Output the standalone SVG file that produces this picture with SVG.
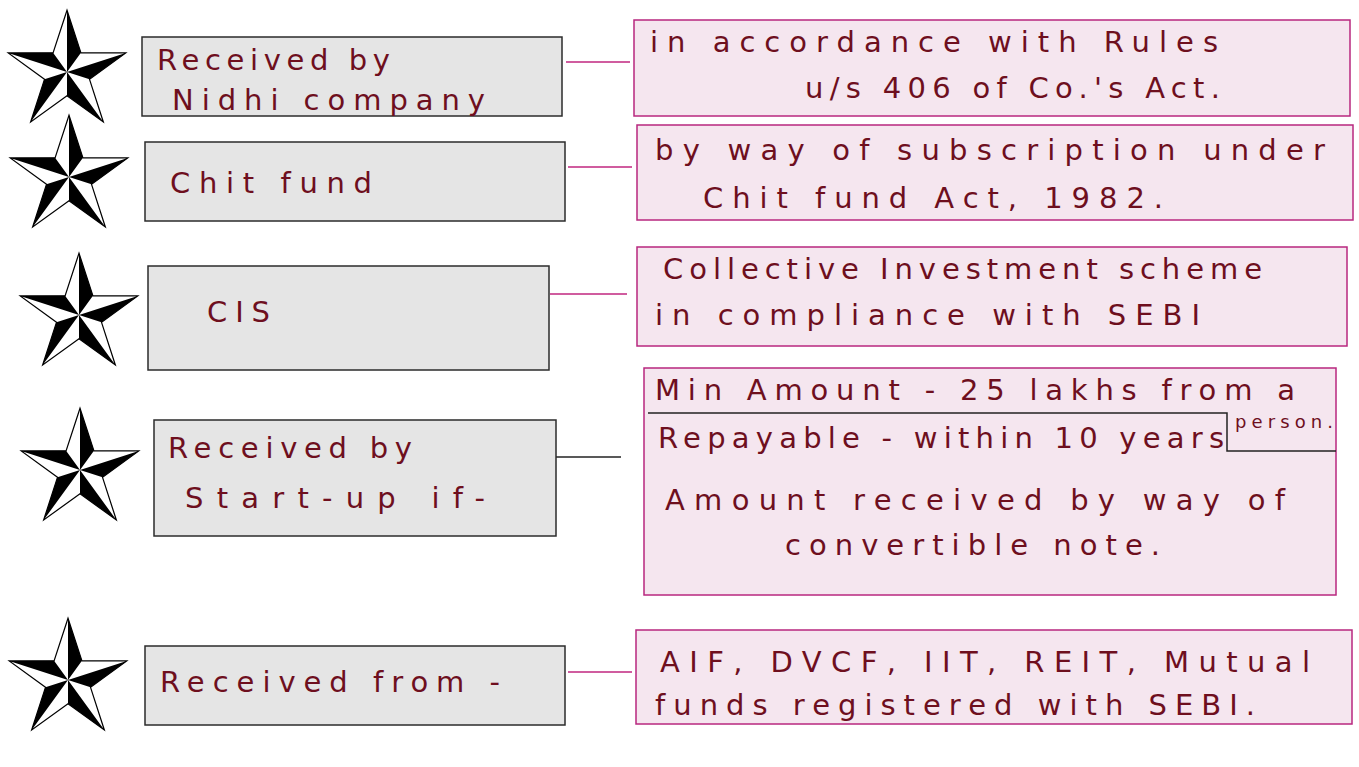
<svg xmlns="http://www.w3.org/2000/svg" width="1359" height="767" viewBox="0 0 1359 767">
<style>
.gbox{fill:#e5e5e5;stroke:#2b2b2b;stroke-width:1.5}
.pbox{fill:#f5e6ef;stroke:#b8277f;stroke-width:1.5}
.conn{stroke:#c0267f;stroke-width:1.5;fill:none}
.blk{stroke:#222;stroke-width:1.5;fill:none}
.t{font-family:"DejaVu Sans","Liberation Sans",sans-serif;font-size:29px;fill:#6e0f1e}
.s{font-family:"DejaVu Sans","Liberation Sans",sans-serif;font-size:18px;fill:#6e0f1e}
</style>
<defs>
<g id="star">
<path d="M0,-60 L13.52,-18.61 L57.06,-18.54 L21.87,7.11 L35.27,48.54 L0,23 L-35.27,48.54 L-21.87,7.11 L-57.06,-18.54 L-13.52,-18.61 Z" fill="#fff" stroke="#000" stroke-width="1.2"/>
<path d="M0,0 L0,-60 L13.52,-18.61 Z M0,0 L57.06,-18.54 L21.87,7.11 Z M0,0 L35.27,48.54 L0,23 Z M0,0 L-35.27,48.54 L-21.87,7.11 Z M0,0 L-57.06,-18.54 L-13.52,-18.61 Z" fill="#000"/>
</g>
</defs>
<g id="stars">
<use href="#star" transform="translate(67,72) scale(1.03)"/>
<use href="#star" transform="translate(69,177) scale(1.03)"/>
<use href="#star" transform="translate(79,315) scale(1.03)"/>
<use href="#star" transform="translate(80,470) scale(1.03)"/>
<use href="#star" transform="translate(68,680) scale(1.03)"/>
</g>
<g id="connectors">
<line class="conn" x1="566" y1="62" x2="630" y2="62"/>
<line class="conn" x1="568" y1="167" x2="632" y2="167"/>
<line class="conn" x1="550" y1="294" x2="627" y2="294"/>
<line class="blk" x1="554" y1="457" x2="621" y2="457"/>
<line class="conn" x1="568" y1="672" x2="632" y2="672"/>
</g>
<g id="node1">
<rect class="gbox" x="142" y="37" width="420" height="79"/>
<text class="t" x="157" y="70" textLength="233" lengthAdjust="spacing">Received by</text>
<text class="t" x="172" y="110" textLength="313" lengthAdjust="spacing">Nidhi company</text>
</g>
<g id="node2">
<rect class="gbox" x="145" y="142" width="420" height="79"/>
<text class="t" x="170" y="193" textLength="202" lengthAdjust="spacing">Chit fund</text>
</g>
<g id="node3">
<rect class="gbox" x="148" y="266" width="401" height="104"/>
<text class="t" x="207" y="322" textLength="63" lengthAdjust="spacing">CIS</text>
</g>
<g id="node4">
<rect class="gbox" x="154" y="420" width="402" height="116"/>
<text class="t" x="168" y="458" textLength="244" lengthAdjust="spacing">Received by</text>
<text class="t" x="185" y="508" textLength="300" lengthAdjust="spacing">Start-up if-</text>
</g>
<g id="node5">
<rect class="gbox" x="145" y="646" width="420" height="79"/>
<text class="t" x="160" y="692" textLength="340" lengthAdjust="spacing">Received from -</text>
</g>
<g id="note1">
<rect class="pbox" x="634" y="20" width="716" height="96"/>
<text class="t" x="650" y="52" textLength="568" lengthAdjust="spacing">in accordance with Rules</text>
<text class="t" x="805" y="98" textLength="415" lengthAdjust="spacing">u/s 406 of Co.'s Act.</text>
</g>
<g id="note2">
<rect class="pbox" x="637" y="125" width="716" height="95"/>
<text class="t" x="655" y="160" textLength="670" lengthAdjust="spacing">by way of subscription under</text>
<text class="t" x="703" y="208" textLength="460" lengthAdjust="spacing">Chit fund Act, 1982.</text>
</g>
<g id="note3">
<rect class="pbox" x="637" y="247" width="710" height="99"/>
<text class="t" x="663" y="279" textLength="599" lengthAdjust="spacing">Collective Investment scheme</text>
<text class="t" x="655" y="325" textLength="545" lengthAdjust="spacing">in compliance with SEBI</text>
</g>
<g id="note4">
<rect class="pbox" x="644" y="368" width="692" height="227"/>
<polyline class="blk" points="648,413 1227,413 1227,451 1336,451"/>
<text class="t" x="655" y="400" textLength="640" lengthAdjust="spacing">Min Amount - 25 lakhs from a</text>
<text class="s" x="1235" y="428" textLength="98" lengthAdjust="spacing">person.</text>
<text class="t" x="658" y="448" textLength="566" lengthAdjust="spacing">Repayable - within 10 years</text>
<text class="t" x="665" y="510" textLength="620" lengthAdjust="spacing">Amount received by way of</text>
<text class="t" x="785" y="555" textLength="375" lengthAdjust="spacing">convertible note.</text>
</g>
<g id="note5">
<rect class="pbox" x="636" y="630" width="716" height="94"/>
<text class="t" x="660" y="672" textLength="650" lengthAdjust="spacing">AIF, DVCF, IIT, REIT, Mutual</text>
<text class="t" x="655" y="715" textLength="600" lengthAdjust="spacing">funds registered with SEBI.</text>
</g>
</svg>
